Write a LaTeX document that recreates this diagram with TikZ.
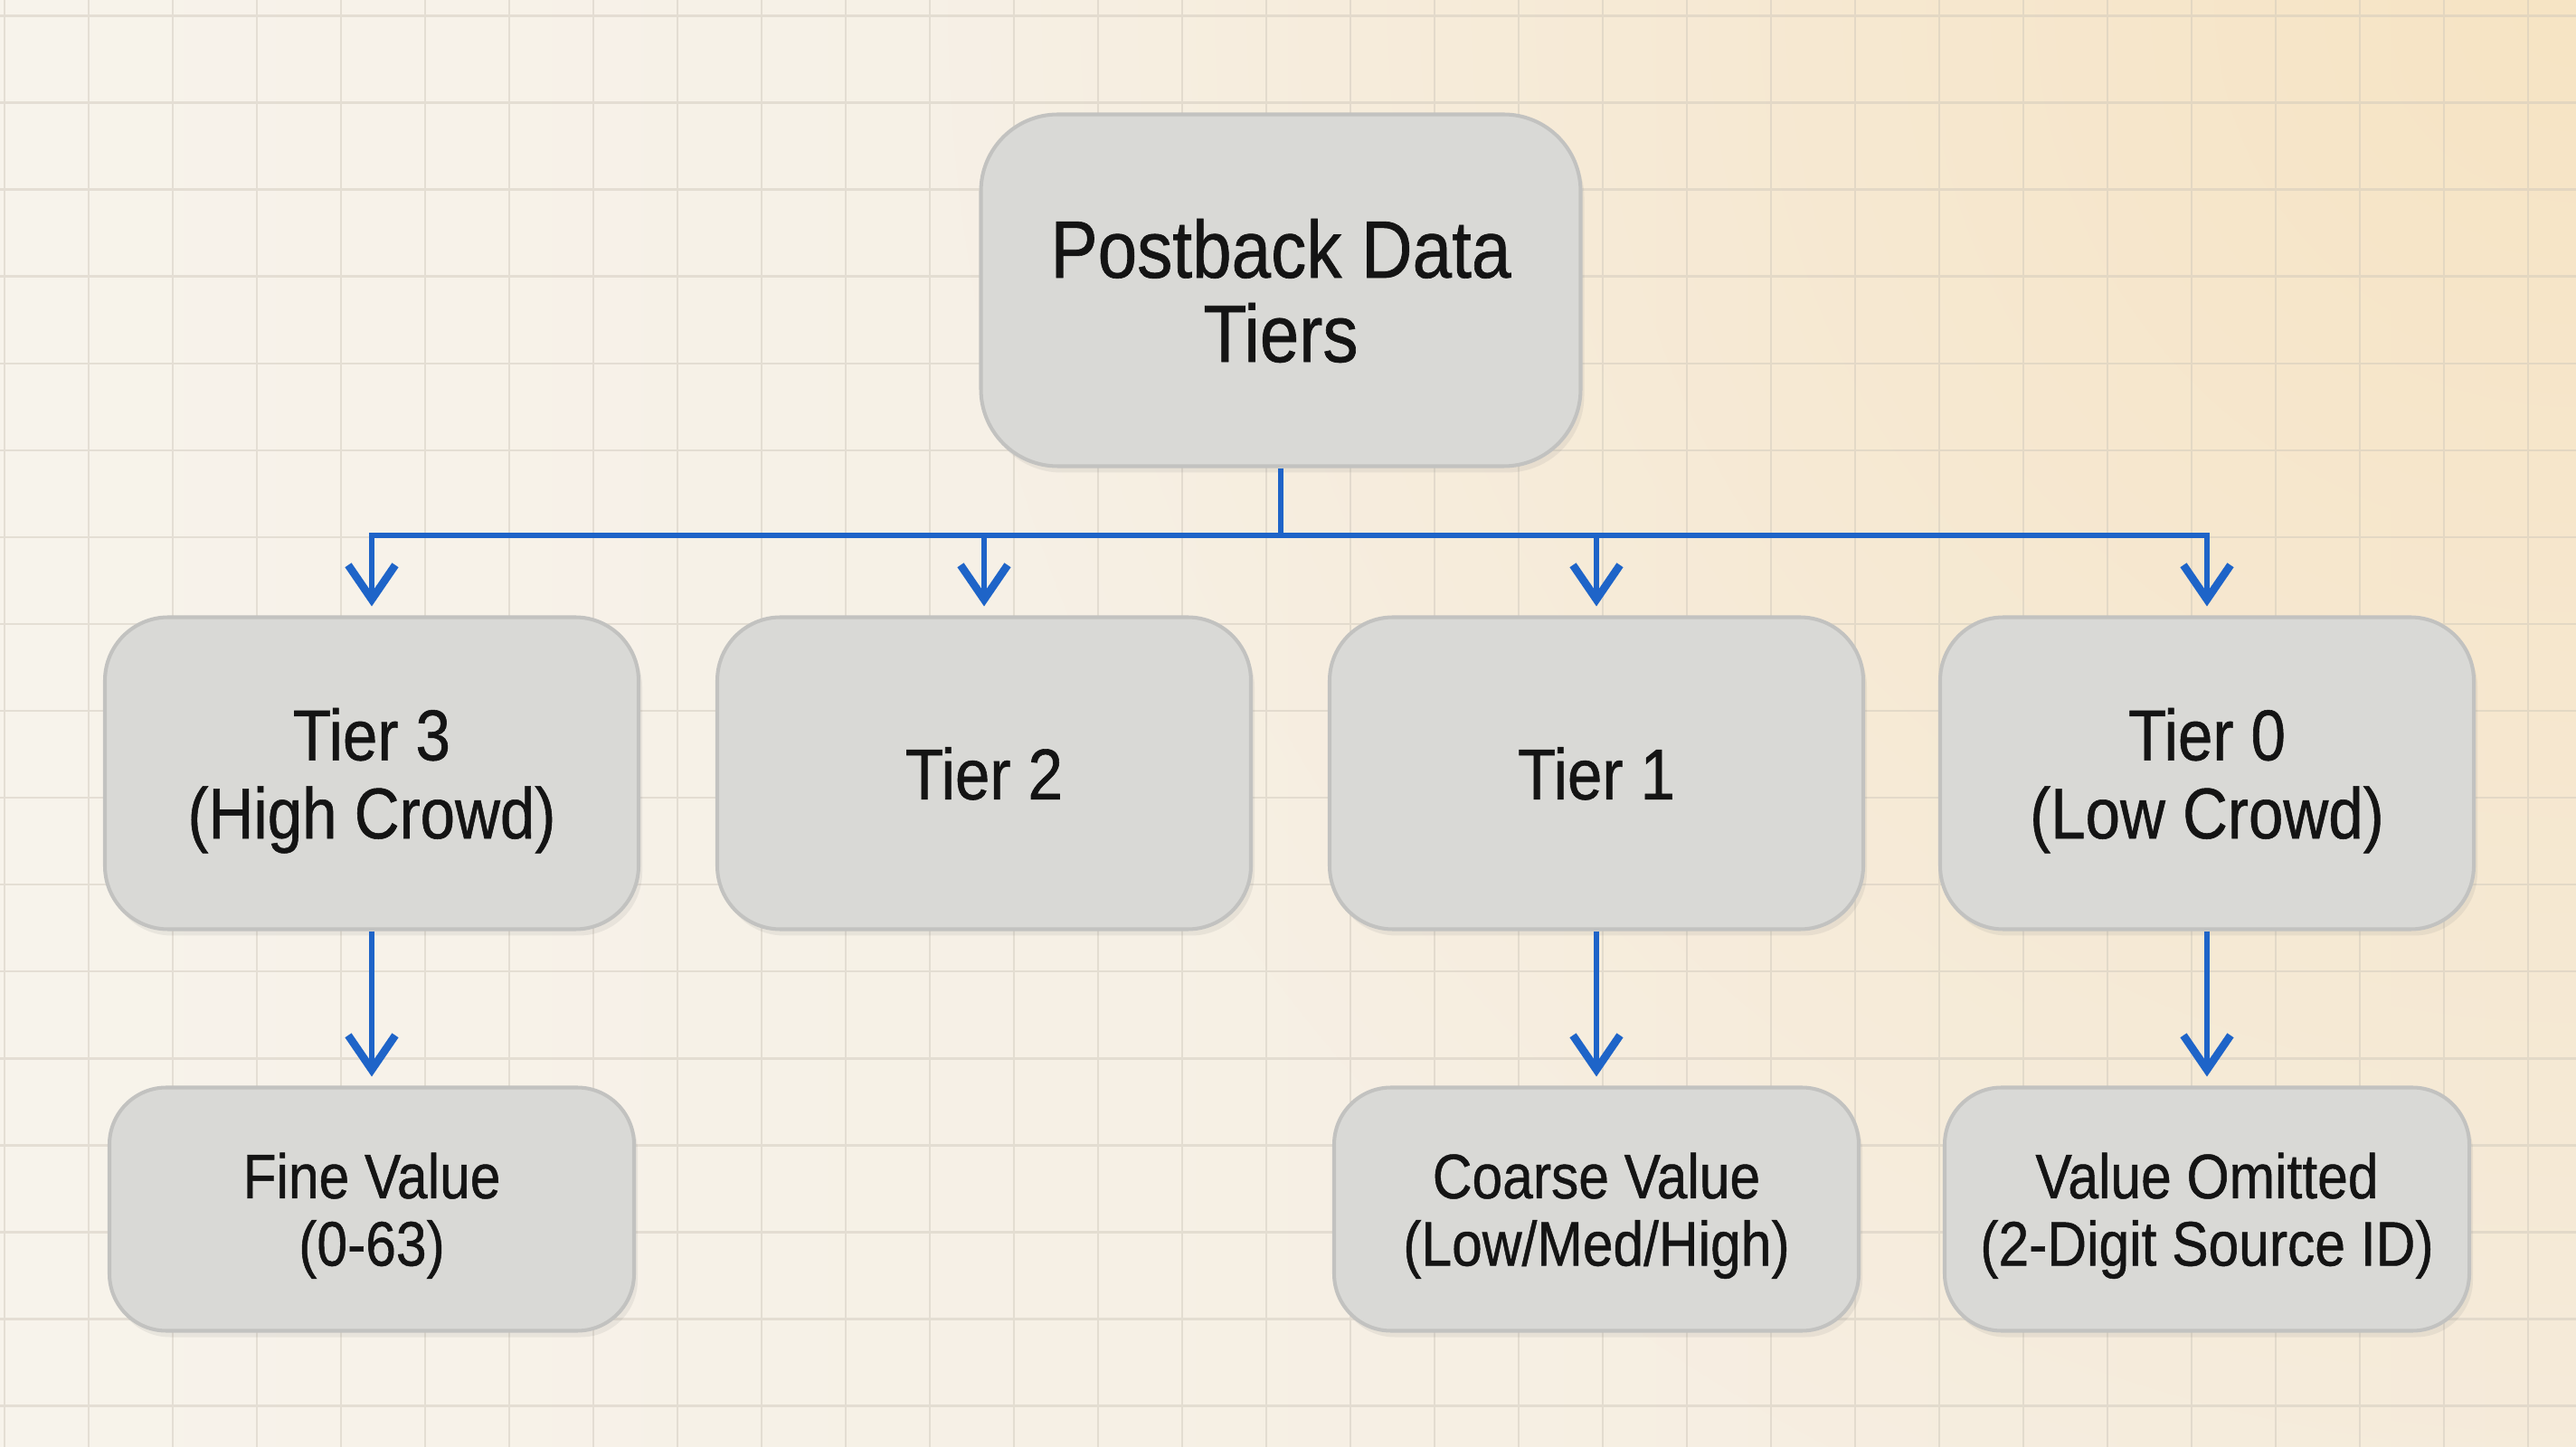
\documentclass[tikz,border=0pt]{standalone}
\usepackage{fontspec}
\setmainfont[FakeStretch=0.87,FakeBold=0.7]{Liberation Sans}
\usetikzlibrary{arrows.meta,calc,shadows,fadings}

\definecolor{paperl}{RGB}{247,243,235}
\definecolor{paperr}{RGB}{245,236,221}
\definecolor{glow}{RGB}{247,228,196}
\definecolor{gridc}{RGB}{205,198,186}
\definecolor{boxfill}{RGB}{217,217,214}
\definecolor{boxline}{RGB}{194,194,192}
\definecolor{linkblue}{RGB}{30,100,200}

\tikzfading[name=glowfade, inner color=transparent!0, outer color=transparent!100]

\tikzset{
  box/.style={draw=boxline, fill=boxfill, line width=1.15pt, align=center,
    inner sep=0pt, text=black!92, text depth=0pt,
    drop shadow={opacity=0.12, shadow xshift=0.04, shadow yshift=-0.07}},
  topbox/.style={box, minimum width=6.63cm, minimum height=3.89cm,
    rounded corners=0.85cm, font=\fontsize{25.6}{26.5}\selectfont},
  tierbox/.style={box, minimum width=5.9cm, minimum height=3.45cm,
    rounded corners=0.7cm, font=\fontsize{22.6}{24.6}\selectfont},
  valbox/.style={box, minimum width=5.8cm, minimum height=2.69cm,
    rounded corners=0.63cm, font=\fontsize{19.8}{21.2}\selectfont},
  link/.style={draw=linkblue, line width=1.7pt},
  linkarrow/.style={link, -{Straight Barb[length=0.38cm, width=0.52cm, line width=0pt 1.45]},
    shorten >=0.1cm}
}

\begin{document}
\begin{tikzpicture}
    \useasboundingbox (0,0) rectangle (28.48,-16);

    % paper background
    \begin{scope}
        \clip (0,0) rectangle (28.48,-16);
        \shade[left color=paperl, right color=paperr] (0,0) rectangle (28.48,-16);
        \fill[glow, path fading=glowfade] (28.48,0) circle (18);
        \draw[gridc, line width=0.85pt, opacity=0.45, xstep=0.93, ystep=0.96,
            shift={(0.05,-0.18)}] (-1,-17) grid (29,1);
    \end{scope}

    \node[topbox] (top) at (14.16, -3.21) {Postback Data\\Tiers};

    \node[tierbox] (tier3) at (4.11, -8.55) {Tier 3\\(High Crowd)};
    \node[tierbox] (tier2) at (10.88, -8.55) {Tier 2};
    \node[tierbox] (tier1) at (17.65, -8.55) {Tier 1};
    \node[tierbox] (tier0) at (24.40, -8.55) {Tier 0\\(Low Crowd)};

    \node[valbox] (fine) at (4.11, -13.37) {Fine Value\\(0-63)};
    \node[valbox] (coarse) at (17.65, -13.37) {Coarse Value\\(Low/Med/High)};
    \node[valbox] (omitted) at (24.40, -13.37) {Value Omitted\\(2-Digit Source ID)};

    \coordinate (bus) at ($(top.south) + (0,-0.745)$);
    \draw[link] (top.south) -- (bus);
    \draw[link, line cap=rect] (bus -| tier3) -- (bus -| tier0);

    \draw[linkarrow] (bus -| tier3) -- (tier3.north);
    \draw[linkarrow] (bus -| tier2) -- (tier2.north);
    \draw[linkarrow] (bus -| tier1) -- (tier1.north);
    \draw[linkarrow] (bus -| tier0) -- (tier0.north);

    \draw[linkarrow] (tier3.south) -- (fine.north);
    \draw[linkarrow] (tier1.south) -- (coarse.north);
    \draw[linkarrow] (tier0.south) -- (omitted.north);
\end{tikzpicture}
\end{document}
